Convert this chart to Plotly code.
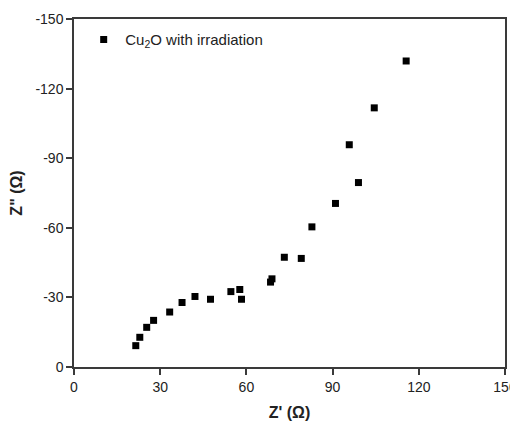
import plotly.graph_objects as go

series_name = "Cu<sub>2</sub>O with irradiation"
z_real = [21.5, 22.9, 25.3, 27.7, 33.3, 37.6, 42.1, 47.5, 54.6, 57.7, 58.3,
          68.4, 68.9, 73.2, 79.1, 82.8, 91.0, 95.8, 99.0, 104.5, 115.6]
z_imag = [-9.2, -12.8, -17.1, -20.1, -23.7, -27.8, -30.4, -29.2, -32.5, -33.4, -29.2,
          -36.6, -38.0, -47.3, -46.8, -60.4, -70.5, -95.8, -79.5, -111.7, -131.9]
x_ticks = [0, 30, 60, 90, 120, 150]
y_ticks = [0, -30, -60, -90, -120, -150]
x_ticklabels = ["0", "30", "60", "90", "120", "150"]
y_ticklabels = ["0", "-30", "-60", "-90", "-120", "-150"]

FONT = "Liberation Sans, Arial, sans-serif"

fig = go.Figure()
fig.add_trace(go.Scatter(
    x=z_real, y=z_imag, mode="markers", name=series_name,
    marker=dict(symbol="square", size=7, color="black"),
))

axis_common = dict(
    showgrid=False, zeroline=False, showline=True, mirror=True,
    linecolor="#3a3a3a", linewidth=1.5, automargin=False,
    ticks="outside", ticklen=6, tickwidth=1.5, tickcolor="#3a3a3a",
    tickfont=dict(family=FONT, size=14, color="#222"),
)

# page body has an 8px margin, so the figure is sized to fill the rest
fig.update_layout(
    width=510, height=413,
    margin=dict(l=66, r=13, t=11, b=54),
    paper_bgcolor="white", plot_bgcolor="white",
    showlegend=True,
    legend=dict(x=0.019, y=0.988, xanchor="left", yanchor="top",
                itemwidth=33,
                bgcolor="rgba(0,0,0,0)",
                font=dict(family=FONT, size=15, color="#222")),
    xaxis=dict(range=[0, 150], tickvals=x_ticks, ticktext=x_ticklabels,
               title=dict(text="<b>Z' (Ω)</b>", standoff=15,
                          font=dict(family=FONT, size=16, color="#222")),
               **axis_common),
    yaxis=dict(range=[0, -150], tickvals=y_ticks, ticktext=y_ticklabels,
               title=dict(text='<b>Z" (Ω)</b>', standoff=10,
                          font=dict(family=FONT, size=16, color="#222")),
               **axis_common),
)

fig.write_html("out.html")
